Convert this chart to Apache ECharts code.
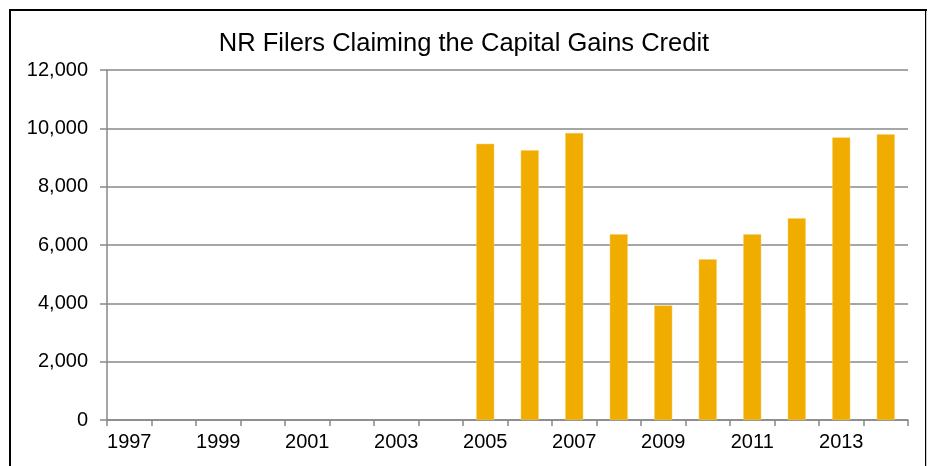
<!DOCTYPE html>
<html>
<head>
<meta charset="utf-8">
<title>NR Filers Claiming the Capital Gains Credit</title>
<script src="https://cdn.jsdelivr.net/npm/echarts@6/dist/echarts.min.js"></script>
<style>
    html, body { margin: 0; padding: 0; background: #fff; }
    #chart { width: 928px; height: 466px; }
</style>
</head>
<body>
<div id="chart"></div>
<script>
    var years = ['1997', '1998', '1999', '2000', '2001', '2002', '2003', '2004', '2005',
        '2006', '2007', '2008', '2009', '2010', '2011', '2012', '2013', '2014'];
    var filers = [null, null, null, null, null, null, null, null, 9470,
        9250, 9840, 6370, 3930, 5510, 6370, 6920, 9690, 9800];
    var yTicks = [0, 2000, 4000, 6000, 8000, 10000, 12000];

    (function () {
        var chart = echarts.init(document.getElementById('chart'));
        var font = 'Liberation Sans, Arial, sans-serif';

        chart.setOption({
            animation: false,
            title: {
                text: 'NR Filers Claiming the Capital Gains Credit',
                left: 'center',
                top: 26,
                textStyle: { fontFamily: font, fontSize: 25.5, fontWeight: 'normal', color: '#000' }
            },
            // 外框
            graphic: [{
                type: 'rect',
                shape: { x: 10, y: 10, width: 916, height: 480 },
                style: { fill: 'none', stroke: '#000', lineWidth: 2 }
            }, {
                type: 'line',
                shape: { x1: 926.5, y1: 11, x2: 926.5, y2: 466 },
                style: { stroke: '#ccc', lineWidth: 1 }
            }],
            grid: { left: 107, right: 20, top: 70, bottom: 46 },
            xAxis: {
                type: 'category',
                data: years,
                axisLine: { lineStyle: { color: '#888', width: 1.5 } },
                axisTick: { show: true, interval: 0, length: 6, lineStyle: { color: '#888', width: 1.5 } },
                axisLabel: { interval: 1, margin: 12, fontFamily: font, fontSize: 20, color: '#000' }
            },
            yAxis: {
                type: 'value',
                min: yTicks[0],
                max: yTicks[yTicks.length - 1],
                interval: 2000,
                axisLine: { show: true, lineStyle: { color: '#888', width: 1.5 } },
                axisTick: { show: true, length: 7, lineStyle: { color: '#888', width: 1.5 } },
                axisLabel: {
                    margin: 19, fontFamily: font, fontSize: 20, color: '#000',
                    formatter: function (v) { return v.toLocaleString('en-US'); }
                },
                splitLine: { lineStyle: { color: '#888', width: 1.5 } }
            },
            series: [{
                type: 'bar',
                data: filers,
                barWidth: 18,
                itemStyle: { color: '#F0AD00', borderColor: '#F6CF6A', borderWidth: 0.5 }
            }]
        });
    })();
</script>
</body>
</html>
